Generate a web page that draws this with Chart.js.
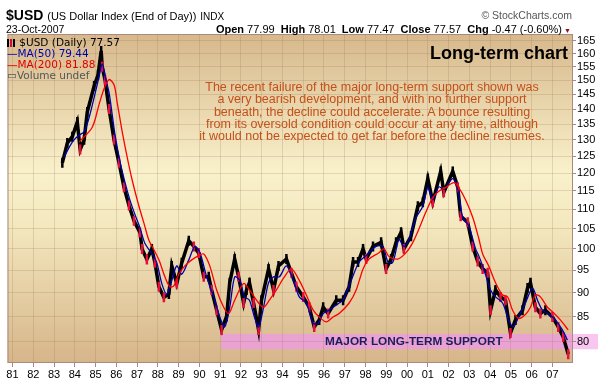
<!DOCTYPE html>
<html>
<head>
<meta charset="utf-8">
<script src="https://cdn.jsdelivr.net/npm/chart.js@4/dist/chart.umd.min.js"></script>
<style>
  body { margin: 0; background: #fff; font-family: Arial, "Liberation Sans", sans-serif; }
  #wrap { position: relative; width: 598px; height: 384px; overflow: hidden; }
  #myChart { position: absolute; left: 0; top: 0; }
  .t { position: absolute; white-space: nowrap; line-height: 1; }
  .leg { font-family: "DejaVu Sans", Verdana, sans-serif; font-size: 10.5px; }
  .ico { display: inline-block; width: 2px; height: 8px; margin-right: 1px; vertical-align: -1px; }
  b { font-weight: bold; }
</style>
</head>
<body>
<div id="wrap">
  <canvas id="myChart" width="598" height="384"></canvas>

  <div class="t" style="left:6px;top:8px;font-size:14px;"><b>$USD</b> <span style="font-size:11px;">(US Dollar Index (End of Day))</span> <span style="font-size:10px;">INDX</span></div>
  <div class="t" style="left:6px;top:24px;font-size:10.5px;">23-Oct-2007</div>
  <div class="t" style="right:26px;top:10px;font-size:10.5px;color:#555;">&copy; StockCharts.com</div>
  <div class="t" style="right:36px;top:24px;font-size:11px;"><b>Open</b> 77.99 <b>&nbsp;High</b> 78.01 <b>&nbsp;Low</b> 77.47 <b>&nbsp;Close</b> 77.57 <b>&nbsp;Chg</b> -0.47 (-0.60%)</div>
  <div class="t" style="left:564px;top:27px;font-size:7px;color:#901020;">&#9660;</div>

  <div class="t leg" style="left:7px;top:37px;color:#000;"><span class="ico" style="background:#000"></span><span class="ico" style="background:#d01030"></span><span class="ico" style="background:#000"></span> $USD (Daily) 77.57</div>
  <div class="t leg" style="left:7px;top:48px;color:#0000a8;">&mdash;MA(50) 79.44</div>
  <div class="t leg" style="left:7px;top:59px;color:#e00000;">&mdash;MA(200) 81.88</div>
  <div class="t leg" style="left:7px;top:70px;color:#555;">&#9645;Volume undef</div>

  <div class="t" style="right:30px;top:44px;font-size:18px;font-weight:bold;color:#000;">Long-term chart</div>
  <div class="t" style="left:372px;top:81px;transform:translateX(-50%);font-size:12.5px;color:#c4501a;text-align:center;line-height:12.3px;">
    The recent failure of the major long-term support shown was<br>
    a very bearish development, and with no further support<br>
    beneath, the decline could accelerate. A bounce resulting<br>
    from its oversold condition could occur at any time, although<br>
    it would not be expected to get far before the decline resumes.
  </div>
  <div class="t" style="left:325px;top:336px;font-size:11.8px;font-weight:bold;color:#1c1c60;">MAJOR LONG-TERM SUPPORT</div>
</div>

<script>
// USD index (decimal year, index value)
const priceYears = [1983.40, 1983.64, 1983.88, 1984.12, 1984.26, 1984.45, 1984.60, 1984.93, 1985.12, 1985.27,
  1985.32, 1985.46, 1985.65, 1985.89, 1986.13, 1986.37, 1986.61, 1986.85, 1987.14, 1987.24,
  1987.47, 1987.71, 1987.86, 1988.05, 1988.29, 1988.53, 1988.67, 1988.91, 1989.15, 1989.49,
  1989.73, 1989.97, 1990.21, 1990.45, 1990.59, 1990.83, 1991.07, 1991.31, 1991.46, 1991.70,
  1991.89, 1992.13, 1992.27, 1992.41, 1992.61, 1992.85, 1992.99, 1993.33, 1993.57, 1993.81,
  1994.19, 1994.43, 1994.67, 1995.00, 1995.29, 1995.53, 1995.77, 1995.96, 1996.20, 1996.59,
  1996.92, 1997.21, 1997.40, 1997.64, 1997.88, 1998.03, 1998.36, 1998.75, 1998.99, 1999.23,
  1999.47, 1999.71, 1999.85, 2000.19, 2000.52, 2000.76, 2001.00, 2001.24, 2001.62, 2001.77,
  2002.20, 2002.44, 2002.58, 2002.92, 2003.16, 2003.40, 2003.64, 2003.88, 2004.02, 2004.26,
  2004.50, 2004.74, 2004.98, 2005.22, 2005.56, 2005.80, 2005.94, 2006.18, 2006.42, 2006.66,
  2007.00, 2007.28, 2007.52, 2007.76];
const priceValues = [123, 129, 131, 135.7, 127, 130, 139, 148, 152, 161,
  155, 150, 140, 130, 123, 116, 111, 107, 104, 100,
  97.5, 100, 96.7, 91.3, 89, 89.7, 96, 92, 96.7, 102,
  100.6, 99, 93.5, 93.5, 90.6, 86.3, 82.3, 85, 92.2, 97.6,
  93.5, 87.8, 90.6, 92.2, 87.8, 82.3, 88.4, 95.3, 90.6, 96,
  97.6, 94.4, 91.3, 89.1, 86.9, 82.9, 84.3, 86.9, 85.6, 88.4,
  88.4, 91.3, 96.9, 96.9, 100, 97.6, 100.6, 101.6, 95.3, 97.6,
  101.6, 104.1, 100, 103.1, 110.8, 111.9, 118.4, 111.9, 120.5, 114.6,
  120.5, 116, 108.2, 106.6, 100.6, 97, 95.3, 94.4, 86.3, 90.6,
  89.1, 88.4, 81.7, 84.3, 86.3, 91, 92.2, 86.9, 85.6, 86.3,
  84.9, 82.9, 80.9, 77.6];

// 50-day moving average (blue)
const ma50Years = [1983.49, 1983.88, 1984.21, 1984.45, 1984.69, 1984.93, 1985.17, 1985.32, 1985.46, 1985.65,
  1985.80, 1985.94, 1986.18, 1986.42, 1986.66, 1986.90, 1987.14, 1987.38, 1987.71, 1987.95,
  1988.19, 1988.43, 1988.67, 1988.91, 1989.15, 1989.49, 1989.78, 1990.02, 1990.35, 1990.69,
  1990.98, 1991.22, 1991.46, 1991.70, 1991.94, 1992.18, 1992.41, 1992.65, 1992.85, 1993.09,
  1993.33, 1993.57, 1993.85, 1994.19, 1994.53, 1994.81, 1995.15, 1995.48, 1995.72, 1995.96,
  1996.25, 1996.73, 1996.92, 1997.31, 1997.69, 1998.03, 1998.51, 1998.84, 1999.08, 1999.32,
  1999.61, 1999.85, 2000.09, 2000.42, 2000.76, 2001.00, 2001.24, 2001.53, 2001.77, 2002.20,
  2002.44, 2002.68, 2002.97, 2003.30, 2003.45, 2003.69, 2004.02, 2004.26, 2004.60, 2004.89,
  2005.12, 2005.37, 2005.70, 2006.04, 2006.28, 2006.52, 2006.80, 2007.14, 2007.48, 2007.72];
const ma50Values = [124.8, 129.3, 131.5, 132.5, 137.2, 143.9, 151.4, 156.1, 151.4, 145.6,
  138.2, 131.5, 123.3, 117.3, 112.4, 108.6, 105.2, 101.3, 98.9, 96.7,
  92, 89.7, 92.7, 96, 94.1, 97.4, 100.6, 99.2, 93.5, 89.1,
  84.9, 82.9, 86.9, 93.5, 92.7, 89.1, 88.4, 84.9, 82.9, 86.9,
  92.2, 93.5, 93.5, 96, 92.7, 89.1, 87.8, 83.6, 83.6, 85.6,
  86.3, 87.8, 88.4, 92.7, 96.9, 98.4, 100.6, 100.6, 96.9, 96.9,
  102.3, 100.6, 102.3, 107.7, 110.8, 115.9, 112.5, 116.1, 115.4, 118.4,
  115.4, 107.9, 105.7, 100, 98.4, 95.3, 90.6, 89.1, 87.8, 84.3,
  82.9, 84.9, 87.8, 91, 88.4, 86.3, 85.6, 84.3, 82.3, 80.3];

// 200-day moving average (red)
const ma200Years = [1984.21, 1984.84, 1985.17, 1985.41, 1985.65, 1985.89, 1986.04, 1986.28, 1986.52, 1986.76,
  1987.09, 1987.33, 1987.57, 1987.81, 1988.05, 1988.34, 1988.58, 1988.77, 1989.01, 1989.30,
  1989.63, 1989.97, 1990.21, 1990.50, 1990.83, 1991.17, 1991.41, 1991.70, 1992.13, 1992.41,
  1992.85, 1993.09, 1993.37, 1993.71, 1994.05, 1994.43, 1994.81, 1995.15, 1995.48, 1995.77,
  1996.11, 1996.44, 1996.73, 1997.21, 1997.55, 1997.88, 1998.17, 1998.65, 1998.89, 1999.13,
  1999.56, 1999.95, 2000.28, 2000.57, 2000.90, 2001.24, 2001.53, 2001.86, 2002.25, 2002.49,
  2002.82, 2003.16, 2003.45, 2003.64, 2003.93, 2004.26, 2004.60, 2004.84, 2005.08, 2005.37,
  2005.70, 2005.94, 2006.18, 2006.42, 2006.76, 2007.04, 2007.38, 2007.76];
const ma200Values = [129.3, 134, 141.6, 147, 150.3, 148.4, 142.3, 132.7, 124.8, 118.1,
  110.8, 106.4, 102.1, 99.8, 97.4, 93.5, 91.3, 91.5, 94.1, 96,
  97.4, 98.4, 98.8, 96, 90.6, 86.9, 85.6, 88.4, 92, 90.6,
  87.8, 86.9, 88.4, 90.6, 93.2, 95.3, 92.7, 89.5, 86.3, 84.9,
  83.9, 84.9, 85.6, 87.8, 90.6, 95.3, 97.6, 99.1, 100, 98.2,
  97.6, 99.1, 101.6, 104.9, 109.2, 113.2, 114.9, 115.9, 117.3, 115.9,
  112.5, 107.9, 102.6, 98.8, 96, 92.2, 89.5, 89.1, 86.3, 84.6,
  85.4, 86.9, 89.5, 89.1, 86.9, 85.8, 84.3, 82.3];

// tick labels and the support zone
const yTicks = [80, 85, 90, 95, 100, 105, 110, 115, 120, 125, 130, 135, 140, 145, 150, 155, 160, 165];
const xRange = [1980.76, 2007.99];
const yRange = [76, 167.7];
const supportZone = { from: 1991.05, low: 78.55, high: 81.5 };

function toPoints(xs, ys) {
    return xs.map((x, i) => ({ x: x, y: ys[i] }));
}

// background + pink support zone
const backdrop = {
    id: 'backdrop',
    beforeDraw(chart) {
        const { ctx, chartArea: a, scales } = chart;
        ctx.save();
        const g = ctx.createLinearGradient(0, a.top, 0, a.bottom);
        g.addColorStop(0, '#d7b88c');
        g.addColorStop(0.42, '#f9f1cb');
        g.addColorStop(0.58, '#f4e8bf');
        g.addColorStop(1, '#d6b589');
        ctx.fillStyle = g;
        ctx.fillRect(a.left, a.top, a.right - a.left, a.bottom - a.top);

        const x0 = scales.x.getPixelForValue(supportZone.from);
        const yTop = scales.y.getPixelForValue(supportZone.high);
        const yBot = scales.y.getPixelForValue(supportZone.low);
        ctx.fillStyle = '#e9a2d2';
        ctx.fillRect(x0, yTop, a.right - x0, yBot - yTop);
        ctx.fillStyle = '#f8c6f0';
        ctx.fillRect(a.right, yTop, chart.width - a.right, yBot - yTop);
        ctx.restore();
    },
    afterDraw(chart) {
        const { ctx, chartArea: a } = chart;
        ctx.save();
        ctx.strokeStyle = '#a88a80';
        ctx.lineWidth = 1;
        ctx.strokeRect(a.left + 0.5, a.top + 0.5, a.right - a.left - 1, a.bottom - a.top - 1);
        ctx.restore();
    }
};

function makeChart() {
    const ctx = document.getElementById('myChart').getContext('2d');
    return new Chart(ctx, {
        type: 'line',
        data: {
            datasets: [{
                label: '$USD',
                data: toPoints(priceYears, priceValues),
                borderColor: '#000',
                borderWidth: 3.5,
                pointStyle: 'line',
                rotation: 90,
                pointRadius: 5,
                pointBorderWidth: 2.5,
                pointBorderColor: c => (c.dataIndex > 0 && priceValues[c.dataIndex] < priceValues[c.dataIndex - 1]) ? '#e8103a' : '#000',
                order: 3
            }, {
                label: 'MA(50)',
                data: toPoints(ma50Years, ma50Values),
                borderColor: '#0000b0',
                borderWidth: 1.3,
                pointRadius: 0,
                tension: 0.3,
                order: 2
            }, {
                label: 'MA(200)',
                data: toPoints(ma200Years, ma200Values),
                borderColor: '#ff0000',
                borderWidth: 1.3,
                pointRadius: 0,
                tension: 0.3,
                order: 1
            }]
        },
        options: {
            responsive: false,
            animation: false,
            layout: { padding: { left: 5, top: 34, right: 0, bottom: 0 } },
            plugins: { legend: { display: false }, tooltip: { enabled: false } },
            scales: {
                x: {
                    type: 'linear',
                    min: xRange[0],
                    max: xRange[1],
                    afterFit: s => { s.height = 21; },
                    border: { display: false },
                    grid: { color: 'rgba(150,115,80,0.22)', tickLength: 4, tickColor: '#a88a80' },
                    ticks: {
                        stepSize: 1,
                        includeBounds: false,
                        autoSkip: false,
                        maxRotation: 0,
                        padding: 1,
                        color: '#000',
                        font: { family: 'Arial, "Liberation Sans"', size: 11 },
                        callback: v => (v % 1 === 0 && v < 2008) ? String(v % 100).padStart(2, '0') : ''
                    }
                },
                y: {
                    type: 'logarithmic',
                    position: 'right',
                    min: yRange[0],
                    max: yRange[1],
                    afterFit: s => { s.width = 25; },
                    afterBuildTicks: s => { s.ticks = yTicks.map(v => ({ value: v })); },
                    border: { display: false },
                    grid: { color: 'rgba(150,115,80,0.22)', tickLength: 3, tickColor: '#a88a80' },
                    ticks: {
                        padding: 1,
                        color: '#000',
                        font: { family: 'Arial, "Liberation Sans"', size: 11 },
                        callback: v => String(v)
                    }
                }
            }
        },
        plugins: [backdrop]
    });
}

makeChart();
</script>
</body>
</html>
